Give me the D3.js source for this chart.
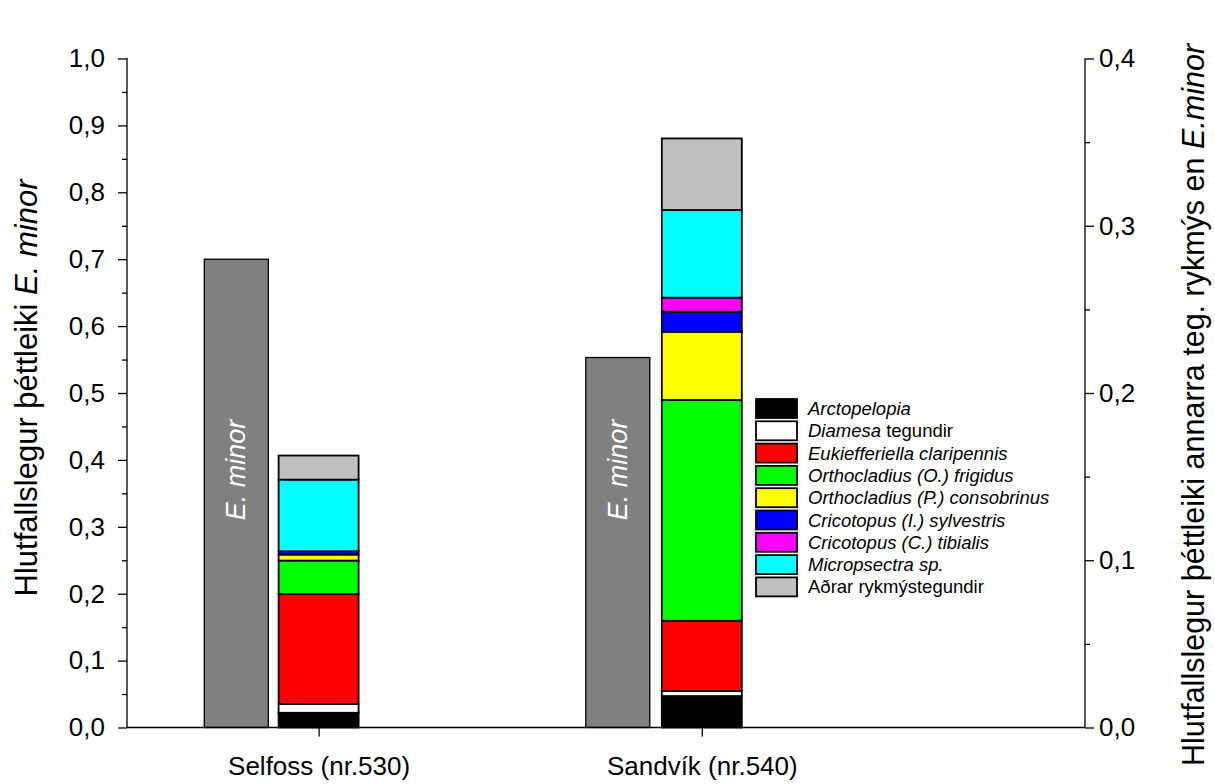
<!DOCTYPE html>
<html><head><meta charset="utf-8">
<script src="https://cdn.jsdelivr.net/npm/d3@7"></script>
<style>body{margin:0;background:#fff}text{font-family:Arial,"Liberation Sans",sans-serif}</style>
</head><body>
<svg id="c" width="1215" height="784"></svg>
<script>
const sites = ["Selfoss (nr.530)", "Sandvík (nr.540)"];
const eMinor = [0.700, 0.553];
const species = ["Arctopelopia","Diamesa tegundir","Eukiefferiella claripennis","Orthocladius (O.) frigidus","Orthocladius (P.) consobrinus","Cricotopus (I.) sylvestris","Cricotopus (C.) tibialis","Micropsectra sp.","Aðrar rykmýstegundir"];
const colors = ["#000000","#ffffff","#ff0000","#00ff00","#ffff00","#0000ff","#ff00ff","#00ffff","#c0c0c0"];
// other species, right-axis units, per species
const selfossOther = [0.0088, 0.0052, 0.0658, 0.0200, 0.0036, 0.0020, 0.0000, 0.0428, 0.0144];
const sandvikOther = [0.0188, 0.0030, 0.0420, 0.1320, 0.0408, 0.0120, 0.0084, 0.0524, 0.0428];
const leftTicks = [0,0.1,0.2,0.3,0.4,0.5,0.6,0.7,0.8,0.9,1.0];
const rightTicks = [0,0.1,0.2,0.3,0.4];

const svg = d3.select("#c");
const x = d3.scaleLinear().domain([0.5, 3]).range([127, 1085]);
const yL = d3.scaleLinear().domain([0, 1]).range([727.5, 58.5]);
const yR = d3.scaleLinear().domain([0, 0.4]).range([727.5, 58.5]);
const fmt = d3.format(".1f");
const comma = v => fmt(v).replace(".", ",");

// E. minor bars
const emOff = [-82.3, -84.0], emW = 64;
sites.forEach((s, i) => {
  const cx = x(i + 1) + emOff[i];
  svg.append("rect").attr("x", cx - emW/2).attr("y", yL(eMinor[i]))
    .attr("width", emW).attr("height", yL(0) - yL(eMinor[i]))
    .attr("fill", "#808080").attr("stroke", "#000").attr("stroke-width", 1.3);
  svg.append("text").attr("transform", `translate(${cx + 9},470) rotate(-90)`)
    .attr("text-anchor", "middle").attr("font-size", 27).attr("font-style", "italic")
    .attr("fill", "#fff").text("E. minor");
});

// stacked bars
const stackW = 80;
[selfossOther, sandvikOther].forEach((vals, i) => {
  const cx = x(i + 1);
  let acc = 0;
  vals.forEach((v, k) => {
    if (v > 0) {
      svg.append("rect").attr("x", cx - stackW/2).attr("y", yR(acc + v))
        .attr("width", stackW).attr("height", yR(acc) - yR(acc + v))
        .attr("fill", colors[k]).attr("stroke", "#000").attr("stroke-width", 1.8);
    }
    acc += v;
  });
});

// axes
const gL = svg.append("g").attr("transform", `translate(${x(0.5)},0)`)
  .call(d3.axisLeft(yL).tickValues(leftTicks).tickFormat(comma).tickSize(9).tickPadding(13));
gL.selectAll(".tick line").attr("stroke-width", 1.3);
gL.selectAll("text").attr("font-size", 26).attr("fill","#000");
gL.select(".domain").attr("stroke-width", 1.3).attr("d", `M-0.5,${yL(1)}H0V${yL(0)}`);
svg.append("g").attr("transform", `translate(${x(0.5)},0)`)
  .call(d3.axisLeft(yL).tickValues(d3.range(0.05, 1, 0.1)).tickFormat("").tickSize(5))
  .call(g => g.select(".domain").remove()).selectAll("line").attr("stroke-width", 1.3);

const gR = svg.append("g").attr("transform", `translate(${x(3)},0)`)
  .call(d3.axisRight(yR).tickValues(rightTicks).tickFormat(comma).tickSize(9).tickPadding(5));
gR.selectAll(".tick line").attr("stroke-width", 1.3);
gR.selectAll("text").attr("font-size", 26).attr("fill","#000");
gR.select(".domain").attr("stroke-width", 1.3).attr("d", `M0,${yR(0.4)}V${yR(0)}`);
svg.append("g").attr("transform", `translate(${x(3)},0)`)
  .call(d3.axisRight(yR).tickValues([0.05,0.15,0.25,0.35]).tickFormat("").tickSize(5))
  .call(g => g.select(".domain").remove()).selectAll("line").attr("stroke-width", 1.3);

const gB = svg.append("g").attr("transform", `translate(0,${yL(0)})`)
  .call(d3.axisBottom(x).tickValues([1, 2]).tickFormat((d, i) => sites[i]).tickSize(9).tickPadding(20));
gB.select(".domain").attr("stroke-width", 1.5).attr("d", `M${x(0.5)},0H${x(3)}`);
gB.selectAll(".tick line").attr("stroke-width", 1.3);
gB.selectAll("text").attr("font-size", 26).attr("fill","#000");

// axis titles
const tl = svg.append("text").attr("transform", "translate(37,388) rotate(-90)")
  .attr("text-anchor", "middle").attr("font-size", 31);
tl.append("tspan").text("Hlutfallslegur þéttleiki ");
tl.append("tspan").attr("font-style", "italic").text("E. minor");
const tr = svg.append("text").attr("transform", "translate(1204,405) rotate(-90)")
  .attr("text-anchor", "middle").attr("font-size", 30.5);
tr.append("tspan").text("Hlutfallslegur þéttleiki annarra teg. rykmýs en ");
tr.append("tspan").attr("font-style", "italic").text("E.minor");

// legend
const lg = svg.append("g").attr("transform", "translate(756,399)");
species.forEach((s, k) => {
  const row = lg.append("g").attr("transform", `translate(0,${k * 22.3})`);
  row.append("rect").attr("width", 41).attr("height", 19).attr("fill", colors[k])
    .attr("stroke", "#000").attr("stroke-width", 1.8);
  const t = row.append("text").attr("x", 52).attr("y", 16).attr("font-size", 18.5);
  if (k === 1) {
    t.append("tspan").attr("font-style", "italic").text("Diamesa");
    t.append("tspan").text(" tegundir");
  } else if (k === 8) {
    t.text(s);
  } else {
    t.attr("font-style", "italic").text(s);
  }
});
</script>
</body></html>
